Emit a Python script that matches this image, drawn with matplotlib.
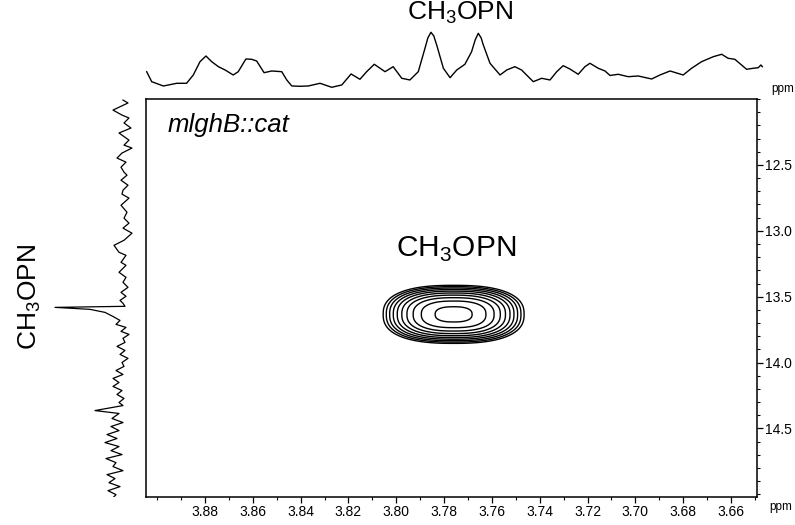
import matplotlib
matplotlib.use("Agg")
import matplotlib.pyplot as plt
import numpy as np
from matplotlib.ticker import MultipleLocator

plt.rcParams['font.family'] = ['Liberation Sans', 'DejaVu Sans']

# projection on top (1H, ppm / intensity)
top_ppm = [3.9044, 3.9023, 3.8974, 3.8918, 3.8877, 3.8849, 3.8821, 3.8796, 3.8772, 3.8744,
           3.8716, 3.8682, 3.8661, 3.8629, 3.8605, 3.8584, 3.8553, 3.8521, 3.8479, 3.8458,
           3.8437, 3.8403, 3.8368, 3.8319, 3.8270, 3.8228, 3.8189, 3.8152, 3.8124, 3.8092,
           3.8047, 3.8013, 3.7977, 3.7943, 3.7908, 3.7880, 3.7868, 3.7855, 3.7843, 3.7831,
           3.7803, 3.7775, 3.7747, 3.7713, 3.7685, 3.7670, 3.7657, 3.7645, 3.7636, 3.7608,
           3.7566, 3.7538, 3.7504, 3.7476, 3.7448, 3.7427, 3.7392, 3.7357, 3.7329, 3.7302,
           3.7274, 3.7239, 3.7211, 3.7190, 3.7155, 3.7127, 3.7106, 3.7072, 3.7030, 3.6988,
           3.6932, 3.6897, 3.6855, 3.6800, 3.6765, 3.6723, 3.6674, 3.6639, 3.6612, 3.6584,
           3.6556, 3.6535, 3.6507, 3.6486, 3.6475, 3.6469]
top_int = [15.3, 5.3, 1.0, 3.7, 3.7, 12.0, 25.3, 31.0, 25.3, 20.3,
           17.0, 12.0, 15.3, 28.0, 27.7, 26.0, 14.3, 16.0, 15.3, 7.0,
           1.0, 0.7, 1.0, 3.7, -0.3, 2.0, 13.0, 7.7, 15.3, 22.7,
           15.3, 20.3, 8.7, 7.0, 15.3, 38.7, 49.0, 54.7, 51.0, 42.0,
           18.7, 9.3, 17.0, 22.7, 35.3, 47.0, 53.7, 49.0, 42.0, 23.7,
           12.0, 17.0, 20.3, 17.0, 10.3, 5.3, 8.7, 7.0, 15.3, 21.3,
           18.0, 12.7, 20.3, 23.7, 18.7, 16.0, 11.5, 12.7, 10.3, 11.0,
           8.0, 12.0, 16.0, 12.0, 18.7, 25.3, 30.3, 32.7, 28.7, 27.7,
           22.0, 17.7, 18.7, 19.3, 22.0, 20.3]

# projection on the left (31P, ppm / intensity)
left_ppm = [12.008, 12.030, 12.084, 12.122, 12.144, 12.182, 12.220, 12.258, 12.296, 12.312,
            12.350, 12.372, 12.410, 12.448, 12.479, 12.517, 12.555, 12.578, 12.616, 12.654,
            12.692, 12.722, 12.752, 12.806, 12.859, 12.904, 12.942, 12.980, 13.018, 13.072,
            13.110, 13.163, 13.186, 13.239, 13.262, 13.315, 13.353, 13.391, 13.429, 13.467,
            13.497, 13.528, 13.550, 13.573, 13.581, 13.596, 13.619, 13.650, 13.680, 13.710,
            13.733, 13.763, 13.786, 13.816, 13.847, 13.877, 13.908, 13.938, 13.968, 13.999,
            14.029, 14.060, 14.090, 14.120, 14.151, 14.181, 14.212, 14.242, 14.272, 14.303,
            14.326, 14.364, 14.386, 14.424, 14.455, 14.485, 14.516, 14.546, 14.576, 14.607,
            14.637, 14.668, 14.698, 14.728, 14.759, 14.789, 14.820, 14.850, 14.880, 14.911,
            14.941, 14.972, 15.002, 15.025]
left_int = [12, 7, 22, 13, 6, 11, 4, 16, 9, 6,
            11, 3, 13, 18, 9, 14, 11, 8, 14, 7,
            12, 13, 6, 14, 8, 11, 6, 12, 3, 11,
            21, 16, 9, 14, 9, 16, 9, 12, 7, 14,
            9, 15, 12, 10, 80, 45, 30, 22, 15, 19,
            9, 14, 6, 12, 10, 18, 10, 15, 7, 13,
            11, 19, 12, 22, 16, 22, 13, 18, 11, 16,
            12, 40, 16, 23, 12, 24, 16, 28, 18, 30,
            16, 24, 13, 29, 19, 22, 12, 28, 20, 26,
            15, 27, 19, 22]

# 2D cross peak
peak_h = 3.776
peak_p = 13.634
width_h = 0.0190
width_p = 0.142
levels = [0.050, 0.069, 0.095, 0.131, 0.180, 0.249, 0.343, 0.473, 0.653, 0.90]

x_ticks = [3.88, 3.86, 3.84, 3.82, 3.80, 3.78, 3.76, 3.74, 3.72, 3.70, 3.68, 3.66]
y_ticks = [12.5, 13.0, 13.5, 14.0, 14.5]

label = r'CH$_{\mathregular{3}}$OPN'

fig = plt.figure(figsize=(7.95, 5.25), dpi=100)
ax = fig.add_axes([0.1836, 0.0533, 0.7686, 0.7581])
ax_top = fig.add_axes([0.1836, 0.8286, 0.7774, 0.1181])
ax_left = fig.add_axes([0.0566, 0.0533, 0.1195, 0.7581])

# contour plot
xx = np.linspace(3.70, 3.85, 500)
yy = np.linspace(13.0, 14.3, 500)
X, Y = np.meshgrid(xx, yy)
Z = np.exp(-(np.abs((X - peak_h) / width_h) ** 2.5 + np.abs((Y - peak_p) / width_p) ** 2.5))
ax.contour(X, Y, Z, levels=levels, colors='black', linewidths=1.0)

ax.set_xlim(3.9047, 3.6491)
ax.set_ylim(15.02, 12.0)
ax.set_xticks(x_ticks)
ax.set_xticklabels([f'{t:.2f}' for t in x_ticks])
ax.set_yticks(y_ticks)
ax.set_yticklabels([f'{t:.1f}' for t in y_ticks])
ax.xaxis.set_minor_locator(MultipleLocator(0.01))
ax.yaxis.set_minor_locator(MultipleLocator(0.1))
ax.yaxis.tick_right()
ax.tick_params(which='major', length=4, width=0.9, labelsize=10, pad=2, direction='out')
ax.tick_params(which='minor', length=2.5, width=0.8, direction='out')
for s in ax.spines.values():
    s.set_linewidth(1.1)

ax.text(0.035, 0.935, 'mlghB::cat', transform=ax.transAxes, style='italic',
        fontsize=18.5, ha='left', va='center')
ax.text(3.775, 13.14, label, fontsize=21.5, ha='center', va='center')

fig.text(781 / 795, 1 - 507 / 525, 'ppm', fontsize=8.5, ha='center', va='center')
fig.text(783 / 795, 1 - 89 / 525, 'ppm', fontsize=8.5, ha='center', va='center')

# top projection
ax_top.plot(top_ppm, top_int, color='black', lw=1.0)
ax_top.set_xlim(3.9047, 3.6462)
ax_top.set_ylim(-3, 59)
ax_top.axis('off')
fig.text(460 / 795, 1 - 13 / 525, label, fontsize=19, ha='center', va='center')

# left projection
ax_left.plot(left_int, left_ppm, color='black', lw=0.9)
ax_left.set_ylim(15.02, 12.0)
ax_left.set_xlim(90, -5)
ax_left.axis('off')
fig.text(30 / 795, 1 - 297 / 525, label, fontsize=19, rotation=90, ha='center', va='center')

fig.savefig('out.png', dpi=100)
